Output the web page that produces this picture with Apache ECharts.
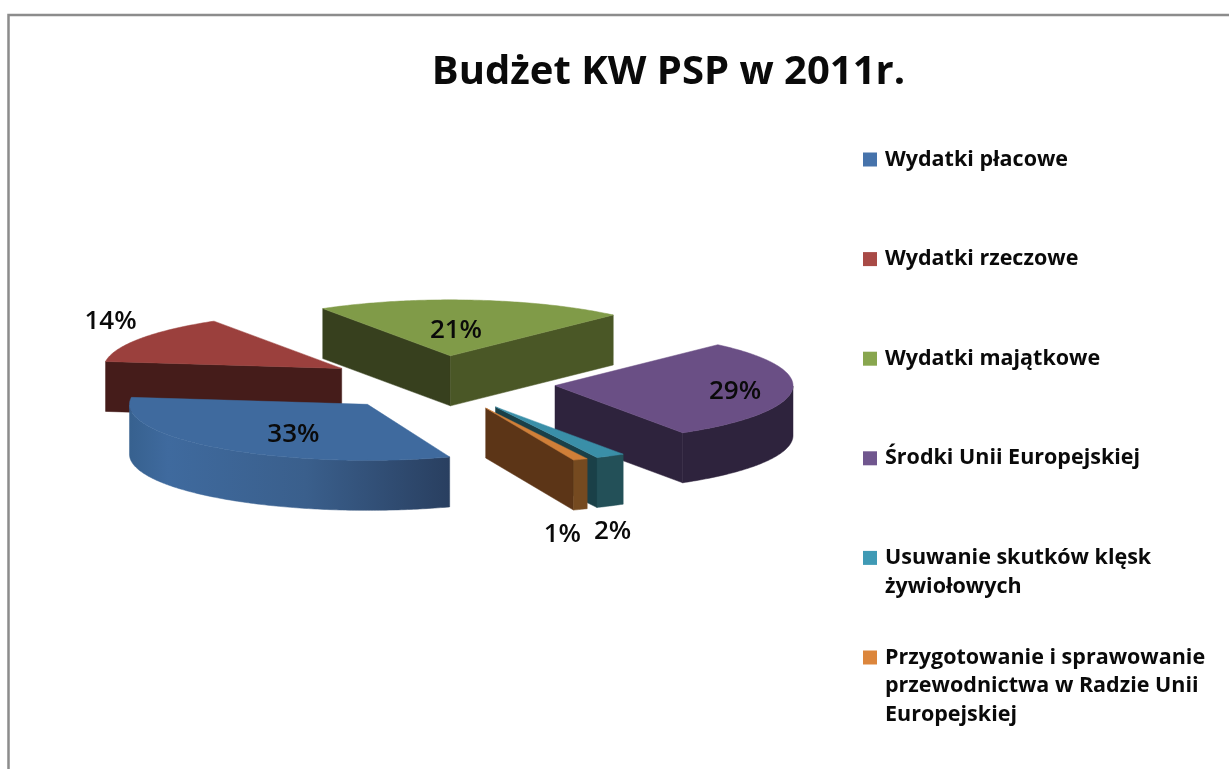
<!DOCTYPE html>
<html><head><meta charset="utf-8">
<style>html,body{margin:0;padding:0;background:#fff}#c{width:1229px;height:769px}</style>
<script src="https://cdn.jsdelivr.net/npm/echarts@6/dist/echarts.min.js"></script>
</head><body><div id="c"></div>
<script>
const categories = ['Wydatki płacowe','Wydatki rzeczowe','Wydatki majątkowe','Środki Unii Europejskiej','Usuwanie skutków klęsk\nżywiołowych','Przygotowanie i sprawowanie\nprzewodnictwa w Radzie Unii\nEuropejskiej'];
const values = [32.6,14,21,29,2,1];
const topColors = ['#3F6A9E','#9B403D','#809B48','#6A4F85','#3A8FA8','#D07F38'];
const legendColors = ['#4673AB','#A84A46','#88A64E','#70568E','#3F9AB5','#DC863C'];
const startWallColors = ['#2A4365','#451C1A','#37401E','#2E233D','#1A3E48','#5C3517'];
const endWallColors = ['#2A4365','#451C1A','#4A5726','#2E233D','#1A4048','#5C3517'];
const arcWallColors = [
  {type:'linear',x:0,y:0,x2:1,y2:0,colorStops:[{offset:0,color:'#37618F'},{offset:.12,color:'#3F6A9E'},{offset:.55,color:'#3A5F8C'},{offset:1,color:'#293F60'}]},
  '#451C1A','#4A5726','#2E233D','#235058','#754A20'];
const labelFactors = [[.5,.7],[1.15,1.55],[.25,.45],[.76,1.25],[1.02,2.54],[.81,2.47]];
const drawOrder = [2,1,3,4,5,0];

const startAngle = 159.8, cx = 439.6, cy = 383, rx = 238, ry = 56, explode = .487, depth = 50;
const legendFirstY = 159.5, legendStep = 99.6, legendLine = 28.5;
const total = 100; // values are percentages of the whole budget
const rad = d => d*Math.PI/180;
const arcs = []; let acc = startAngle;
values.forEach(v => { const s = acc; acc += v/total*360; arcs.push([s,acc]); });

function sliceRender(i){
  return function(){
    const [a0,a1] = arcs[i], mid = rad((a0+a1)/2);
    const ax = cx + Math.sin(mid)*explode*rx, ay = cy - Math.cos(mid)*explode*ry;
    const P = d => [ax + Math.sin(rad(d))*rx, ay - Math.cos(rad(d))*ry];
    const arcPts = [], arcAngles = [];
    for (let d=a0; d<a1; d+=.75){ arcPts.push(P(d)); arcAngles.push(d); }
    arcPts.push(P(a1)); arcAngles.push(a1);
    const down = p => [p[0], p[1]+depth];
    const children = [];
    const poly = (pts, fill) => children.push({type:'polygon',shape:{points:pts},style:{fill:fill,stroke:fill,lineWidth:.5},silent:true});
    if (Math.sin(rad(a0)) < 0){ const e=P(a0); poly([[ax,ay],e,down(e),[ax,ay+depth]], startWallColors[i]); }
    if (Math.sin(rad(a1)) > 0){ const e=P(a1); poly([[ax,ay],e,down(e),[ax,ay+depth]], endWallColors[i]); }
    const front = arcPts.filter((p,k)=>Math.cos(rad(arcAngles[k]))<=0);
    if (front.length>1) poly(front.concat(front.slice().reverse().map(down)), arcWallColors[i]);
    poly([[ax,ay]].concat(arcPts), topColors[i]);
    const f = labelFactors[i];
    children.push({type:'text',style:{
      text: Math.round(values[i])+'%', x: ax+Math.sin(mid)*rx*f[0], y: ay-Math.cos(mid)*ry*f[1],
      align:'center', verticalAlign:'middle', fill:'#0a0a0a',
      font:'600 26px "Open Sans", sans-serif'}});
    return {type:'group',children};
  };
}

const series = drawOrder.map(i => ({
  type:'custom', name:categories[i], coordinateSystem:'none',
  itemStyle:{color:legendColors[i]}, data:[values[i]], renderItem:sliceRender(i),
  silent:true, animation:false
}));

const legends = categories.map((name,i) => {
  const n = name.split('\n').length;
  return {
    data:[name], orient:'vertical', left:863,
    top: legendFirstY + i*legendStep - (2*n-1)*legendLine/2,
    itemWidth:14, itemHeight:14, icon:'rect', selectedMode:false, padding:0,
    textStyle:{fontFamily:'"Open Sans", sans-serif',fontSize:21.5,fontWeight:700,color:'#0a0a0a',lineHeight:legendLine,padding:[0,0,0,3]},
    formatter:t=>'\n'.repeat(n-1)+t
  };
});

const chart = echarts.init(document.getElementById('c'),null,{renderer:'canvas'});
chart.setOption({
  animation:false, backgroundColor:'#fff',
  title:{text:'Budżet KW PSP w 2011r.',left:663.5,top:68,textAlign:'center',textVerticalAlign:'middle',
    textStyle:{fontFamily:'"Open Sans", sans-serif',fontSize:40,fontWeight:700,color:'#0a0a0a'}},
  legend:legends,
  graphic:[{type:'polyline',silent:true,shape:{points:[[8.5,769],[8.5,15],[1229,15]]},style:{stroke:'#8c8c8c',lineWidth:2.5,fill:null}}],
  series
});
</script></body></html>
